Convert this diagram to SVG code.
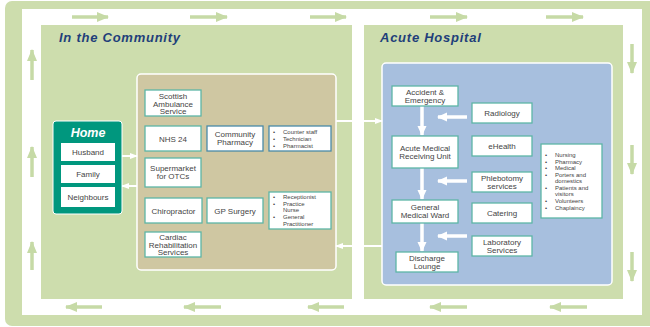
<svg xmlns="http://www.w3.org/2000/svg" width="650" height="327" viewBox="0 0 650 327">
<defs>
<marker id="gh" markerUnits="userSpaceOnUse" markerWidth="12" markerHeight="10" refX="11" refY="5" orient="auto"><path d="M0,0 L12,5 L0,10 Z" fill="#C6DAA6"/></marker>
<marker id="wh" markerUnits="userSpaceOnUse" markerWidth="10" markerHeight="10" refX="9" refY="5" orient="auto"><path d="M0,0.5 L10,5 L0,9.5 Z" fill="#FFFFFF"/></marker>
<marker id="wh2" markerUnits="userSpaceOnUse" markerWidth="8" markerHeight="8" refX="7" refY="4" orient="auto"><path d="M0,1 L8,4 L0,7 Z" fill="#FFFFFF"/></marker>
</defs>
<style>
.box{fill:#FFFFFF;stroke:#5DB5A6;stroke-width:1.3}
.bbox{fill:#FFFFFF;stroke:#4A8AA8;stroke-width:1.3}
.t{font-family:"Liberation Sans",Arial,sans-serif;font-size:8px;fill:#444444;text-anchor:middle}
.s{font-family:"Liberation Sans",Arial,sans-serif;font-size:6px;fill:#444444}
.title{font-family:"Liberation Sans",Arial,sans-serif;font-size:13px;font-weight:bold;font-style:italic;fill:#1F3F7A;letter-spacing:0.75px}
.ga{stroke:#C6DAA6;stroke-width:3.5;fill:none;marker-end:url(#gh)}
.wa{stroke:#FFFFFF;stroke-width:2;fill:none;marker-end:url(#wh2)}
.wv{stroke:#FFFFFF;stroke-width:3.5;fill:none;marker-end:url(#wh)}
</style>
<rect x="5" y="1" width="660" height="325" rx="7" fill="#CDDDAD"/>
<rect x="22" y="9" width="620" height="306" fill="#FFFFFF"/>
<rect x="41" y="25" width="311" height="274" fill="#CDDDAD"/>
<rect x="364" y="25" width="259" height="274" fill="#CDDDAD"/>
<text class="title" x="59" y="42">In the Community</text>
<text class="title" x="380" y="42">Acute Hospital</text>
<g id="loop-arrows">
<line class="ga" x1="72" y1="17" x2="108" y2="17"/>
<line class="ga" x1="190" y1="17" x2="227" y2="17"/>
<line class="ga" x1="310" y1="17" x2="346" y2="17"/>
<line class="ga" x1="430" y1="17" x2="467" y2="17"/>
<line class="ga" x1="546" y1="17" x2="583" y2="17"/>
<line class="ga" x1="632" y1="44" x2="632" y2="73"/>
<line class="ga" x1="632" y1="145" x2="632" y2="174"/>
<line class="ga" x1="632" y1="252" x2="632" y2="281"/>
<line class="ga" x1="587" y1="307" x2="550" y2="307"/>
<line class="ga" x1="467" y1="307" x2="430" y2="307"/>
<line class="ga" x1="344" y1="307" x2="308" y2="307"/>
<line class="ga" x1="221" y1="307" x2="184" y2="307"/>
<line class="ga" x1="102" y1="307" x2="66" y2="307"/>
<line class="ga" x1="32" y1="270" x2="32" y2="242"/>
<line class="ga" x1="32" y1="177" x2="32" y2="147"/>
<line class="ga" x1="32" y1="80" x2="32" y2="50"/>
</g>
<g id="community-services">
<rect x="137" y="74" width="199" height="196" rx="4" fill="#CFC7A2" stroke="#FFFFFF" stroke-width="1.5"/>
</g>
<g id="acute-services">
<rect x="382" y="63" width="230" height="222" rx="4" fill="#A7BFDE" stroke="#FFFFFF" stroke-width="1.5"/>
</g>
<g id="connectors">
<line class="wa" x1="122" y1="156" x2="137" y2="156"/>
<line class="wa" x1="137" y1="186" x2="122" y2="186"/>
<line class="wa" x1="336" y1="121" x2="382" y2="121"/>
<line class="wa" x1="382" y1="246" x2="336" y2="246"/>
<line class="wv" x1="422" y1="106" x2="422" y2="135"/>
<line class="wv" x1="422" y1="168" x2="422" y2="199"/>
<line class="wv" x1="422" y1="223" x2="422" y2="251"/>
<line class="wv" x1="467" y1="117" x2="438" y2="117"/>
<line class="wv" x1="467" y1="181" x2="438" y2="181"/>
<line class="wv" x1="467" y1="236" x2="438" y2="236"/>
</g>
<g id="home">
<rect x="53" y="121" width="69" height="93" rx="3" fill="#00977E" stroke="#FFFFFF" stroke-width="1"/>
<text x="88" y="137" font-family="Liberation Sans,Arial,sans-serif" font-size="12.5" font-weight="bold" font-style="italic" fill="#FFFFFF" text-anchor="middle">Home</text>
</g>
<g id="husband"><rect x="61" y="143" width="54" height="18" fill="#FFFFFF"/><text class="t" x="88" y="155">Husband</text></g>
<g id="family"><rect x="61" y="165" width="54" height="18" fill="#FFFFFF"/><text class="t" x="88" y="177">Family</text></g>
<g id="neighbours"><rect x="61" y="187" width="54" height="20" fill="#FFFFFF"/><text class="t" x="88" y="200">Neighbours</text></g>
<g id="ambulance"><rect class="box" x="145" y="90" width="56" height="26"/><text class="t" x="173" y="99">Scottish</text><text class="t" x="173" y="106.5">Ambulance</text><text class="t" x="173" y="114">Service</text></g>
<g id="nhs24"><rect class="box" x="145" y="126" width="56" height="25"/><text class="t" x="173" y="141.5" font-size="8.5">NHS 24</text></g>
<g id="pharmacy"><rect class="bbox" x="207" y="126" width="56" height="25"/><text class="t" x="235" y="136.5">Community</text><text class="t" x="235" y="144.5">Pharmacy</text></g>
<g id="pharmacy-staff"><rect class="bbox" x="269" y="126" width="62" height="25"/>
<text class="s" x="273" y="134">•</text><text class="s" x="283" y="134">Counter staff</text>
<text class="s" x="273" y="141">•</text><text class="s" x="283" y="141">Technician</text>
<text class="s" x="273" y="147.5">•</text><text class="s" x="283" y="147.5">Pharmacist</text></g>
<g id="supermarket"><rect class="box" x="145" y="158" width="56" height="29"/><text class="t" x="173" y="171">Supermarket</text><text class="t" x="173" y="179">for OTCs</text></g>
<g id="chiropractor"><rect class="box" x="145" y="198" width="57" height="25"/><text class="t" x="173.5" y="213.5">Chiropractor</text></g>
<g id="gp"><rect class="box" x="207" y="198" width="56" height="25"/><text class="t" x="235" y="213.5">GP Surgery</text></g>
<g id="gp-staff"><rect class="box" x="269" y="192" width="62" height="37"/>
<text class="s" x="273" y="199">•</text><text class="s" x="283" y="199">Receptionist</text>
<text class="s" x="273" y="205.5">•</text><text class="s" x="283" y="205.5">Practice</text>
<text class="s" x="283" y="212">Nurse</text>
<text class="s" x="273" y="219">•</text><text class="s" x="283" y="219">General</text>
<text class="s" x="283" y="225.5">Practitioner</text></g>
<g id="cardiac"><rect class="box" x="145" y="232" width="56" height="25"/><text class="t" x="173" y="240">Cardiac</text><text class="t" x="173" y="247.5">Rehabilitation</text><text class="t" x="173" y="255">Services</text></g>
<g id="ae"><rect class="box" x="392" y="86" width="66" height="20"/><text class="t" x="425" y="94.5">Accident &amp;</text><text class="t" x="425" y="102.5">Emergency</text></g>
<g id="radiology"><rect class="box" x="472" y="103" width="60" height="20"/><text class="t" x="502" y="116">Radiology</text></g>
<g id="amru"><rect class="box" x="392" y="136" width="66" height="32"/><text class="t" x="425" y="151">Acute Medical</text><text class="t" x="425" y="159">Receiving Unit</text></g>
<g id="ehealth"><rect class="box" x="472" y="136" width="60" height="20"/><text class="t" x="502" y="149">eHealth</text></g>
<g id="hospital-staff"><rect class="box" x="541" y="144" width="61" height="74"/>
<text class="s" x="545" y="157">•</text><text class="s" x="555" y="157">Nursing</text>
<text class="s" x="545" y="163.5">•</text><text class="s" x="555" y="163.5">Pharmacy</text>
<text class="s" x="545" y="170">•</text><text class="s" x="555" y="170">Medical</text>
<text class="s" x="545" y="176.7">•</text><text class="s" x="555" y="176.7">Porters and</text>
<text class="s" x="555" y="183">domestics</text>
<text class="s" x="545" y="189.7">•</text><text class="s" x="555" y="189.7">Patients and</text>
<text class="s" x="555" y="196">visitors</text>
<text class="s" x="545" y="203">•</text><text class="s" x="555" y="203">Volunteers</text>
<text class="s" x="545" y="209.7">•</text><text class="s" x="555" y="209.7">Chaplaincy</text></g>
<g id="phlebotomy"><rect class="box" x="472" y="172" width="60" height="20"/><text class="t" x="502" y="180.5">Phlebotomy</text><text class="t" x="502" y="188.5">services</text></g>
<g id="gmw"><rect class="box" x="392" y="200" width="66" height="23"/><text class="t" x="425" y="209.5">General</text><text class="t" x="425" y="217.5">Medical Ward</text></g>
<g id="catering"><rect class="box" x="472" y="203" width="60" height="20"/><text class="t" x="502" y="215.5">Catering</text></g>
<g id="laboratory"><rect class="box" x="472" y="236" width="60" height="20"/><text class="t" x="502" y="244.5">Laboratory</text><text class="t" x="502" y="252.5">Services</text></g>
<g id="discharge"><rect class="box" x="396" y="252" width="62" height="20"/><text class="t" x="427" y="260.5">Discharge</text><text class="t" x="427" y="268.5">Lounge</text></g>
</svg>
